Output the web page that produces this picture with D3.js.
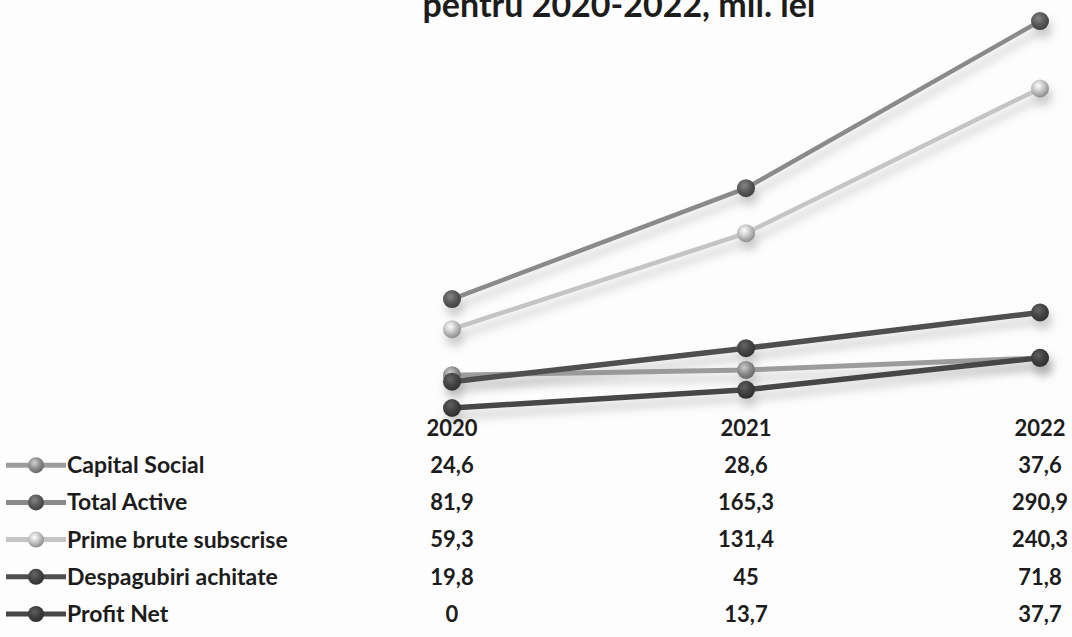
<!DOCTYPE html>
<html>
<head>
<meta charset="utf-8">
<script src="https://cdn.jsdelivr.net/npm/d3@7"></script>
<style>
  html, body { margin: 0; padding: 0; background: #fdfdfd; }
  svg { display: block; font-family: Lato, "Open Sans", sans-serif; }
</style>
</head>
<body>
<svg id="chart" width="1072" height="637"></svg>
<script>
// data (mil. lei)
var years = ["2020", "2021", "2022"];
var seriesNames = ["Capital Social", "Total Active", "Prime brute subscrise", "Despagubiri achitate", "Profit Net"];
var capitalSocial = [24.6, 28.6, 37.6];
var totalActive = [81.9, 165.3, 290.9];
var primeBrute = [59.3, 131.4, 240.3];
var despagubiri = [19.8, 45, 71.8];
var profitNet = [0, 13.7, 37.7];
var valueLabels = [
	["24,6", "28,6", "37,6"],
	["81,9", "165,3", "290,9"],
	["59,3", "131,4", "240,3"],
	["19,8", "45", "71,8"],
	["0", "13,7", "37,7"]
];

// grey shades per series: line colour, ball colour
var lineColors = ["#9c9c9c", "#8a8a8a", "#c4c4c4", "#505050", "#474747"];
var ballColors = ["#8e8e8e", "#5a5a5a", "#c2c2c2", "#454545", "#404040"];
var lineWidths = [5, 4.5, 4.5, 5.5, 5.5];

var series = [capitalSocial, totalActive, primeBrute, despagubiri, profitNet].map(function (v, i) {
	return {name: seriesNames[i], values: v, idx: i};
});

var svg = d3.select("#chart");

var x = d3.scalePoint().domain(years).range([452, 1040]);
var y = d3.scaleLinear().domain([0, 300]).range([408, 9]);

var defs = svg.append("defs");

var shadow = defs.append("filter")
	.attr("id", "shadow")
	.attr("x", "-20%").attr("y", "-50%")
	.attr("width", "140%").attr("height", "200%");
shadow.append("feDropShadow")
	.attr("dx", 3).attr("dy", 8)
	.attr("stdDeviation", 5)
	.attr("flood-color", "#888")
	.attr("flood-opacity", 0.45);

//3d looking balls
ballColors.forEach(function (c, i) {
	var g = defs.append("radialGradient")
		.attr("id", "ball_" + i)
		.attr("cx", "40%").attr("cy", "35%").attr("r", "65%");
	g.append("stop").attr("offset", "0%").attr("stop-color", d3.color(c).brighter(1.1));
	g.append("stop").attr("offset", "55%").attr("stop-color", c);
	g.append("stop").attr("offset", "100%").attr("stop-color", d3.color(c).darker(0.9));
});

// title, cut off at the top of the scan
svg.append("text")
	.attr("x", 619)
	.attr("y", 17)
	.attr("text-anchor", "middle")
	.attr("font-size", 34)
	.attr("font-weight", "bold")
	.attr("fill", "#1c1c1c")
	.text("pentru 2020-2022, mil. lei");

var line = d3.line()
	.x(function (d, i) { return x(years[i]); })
	.y(function (d) { return y(d); });

// draw order: light ones first, darker lines on top
var drawOrder = [2, 1, 0, 4, 3];

var plot = svg.append("g").attr("class", "plot");

drawOrder.forEach(function (k) {
	var s = series[k];
	var g = plot.append("g").attr("filter", "url(#shadow)");
	g.append("path")
		.datum(s.values)
		.attr("fill", "none")
		.attr("stroke", lineColors[k])
		.attr("stroke-width", lineWidths[k])
		.attr("stroke-linecap", "round")
		.attr("d", line);
	g.selectAll("circle")
		.data(s.values)
		.enter()
		.append("circle")
		.attr("cx", function (d, i) { return x(years[i]); })
		.attr("cy", function (d) { return y(d); })
		.attr("r", 9)
		.attr("fill", "url(#ball_" + k + ")");
});

// data table under the chart
var rowY = d3.scalePoint().domain(d3.range(6)).range([428, 614]);
var table = svg.append("g")
	.attr("font-weight", "bold")
	.attr("font-size", 22)
	.attr("fill", "#1c1c1c");

table.selectAll(".yr")
	.data(years)
	.enter()
	.append("text")
	.attr("class", "yr")
	.attr("x", function (d) { return x(d); })
	.attr("y", rowY(0))
	.attr("dy", "0.35em")
	.attr("text-anchor", "middle")
	.text(function (d) { return d; });

var rows = table.selectAll(".row")
	.data(series)
	.enter()
	.append("g")
	.attr("class", "row")
	.attr("transform", function (d, i) { return "translate(0," + rowY(i + 1) + ")"; });

// legend key: short line with a ball
rows.append("line")
	.attr("x1", 6).attr("x2", 66)
	.attr("y1", 0).attr("y2", 0)
	.attr("stroke", function (d) { return lineColors[d.idx]; })
	.attr("stroke-width", 5);
rows.append("circle")
	.attr("cx", 36)
	.attr("cy", 0)
	.attr("r", 8)
	.attr("fill", function (d) { return "url(#ball_" + d.idx + ")"; });

rows.append("text")
	.attr("x", 67)
	.attr("dy", "0.35em")
	.attr("font-size", 23)
	.text(function (d) { return d.name; });

rows.selectAll(".val")
	.data(function (d) { return valueLabels[d.idx]; })
	.enter()
	.append("text")
	.attr("class", "val")
	.attr("x", function (d, i) { return x(years[i]); })
	.attr("dy", "0.35em")
	.attr("text-anchor", "middle")
	.text(function (d) { return d; });
</script>
</body>
</html>
